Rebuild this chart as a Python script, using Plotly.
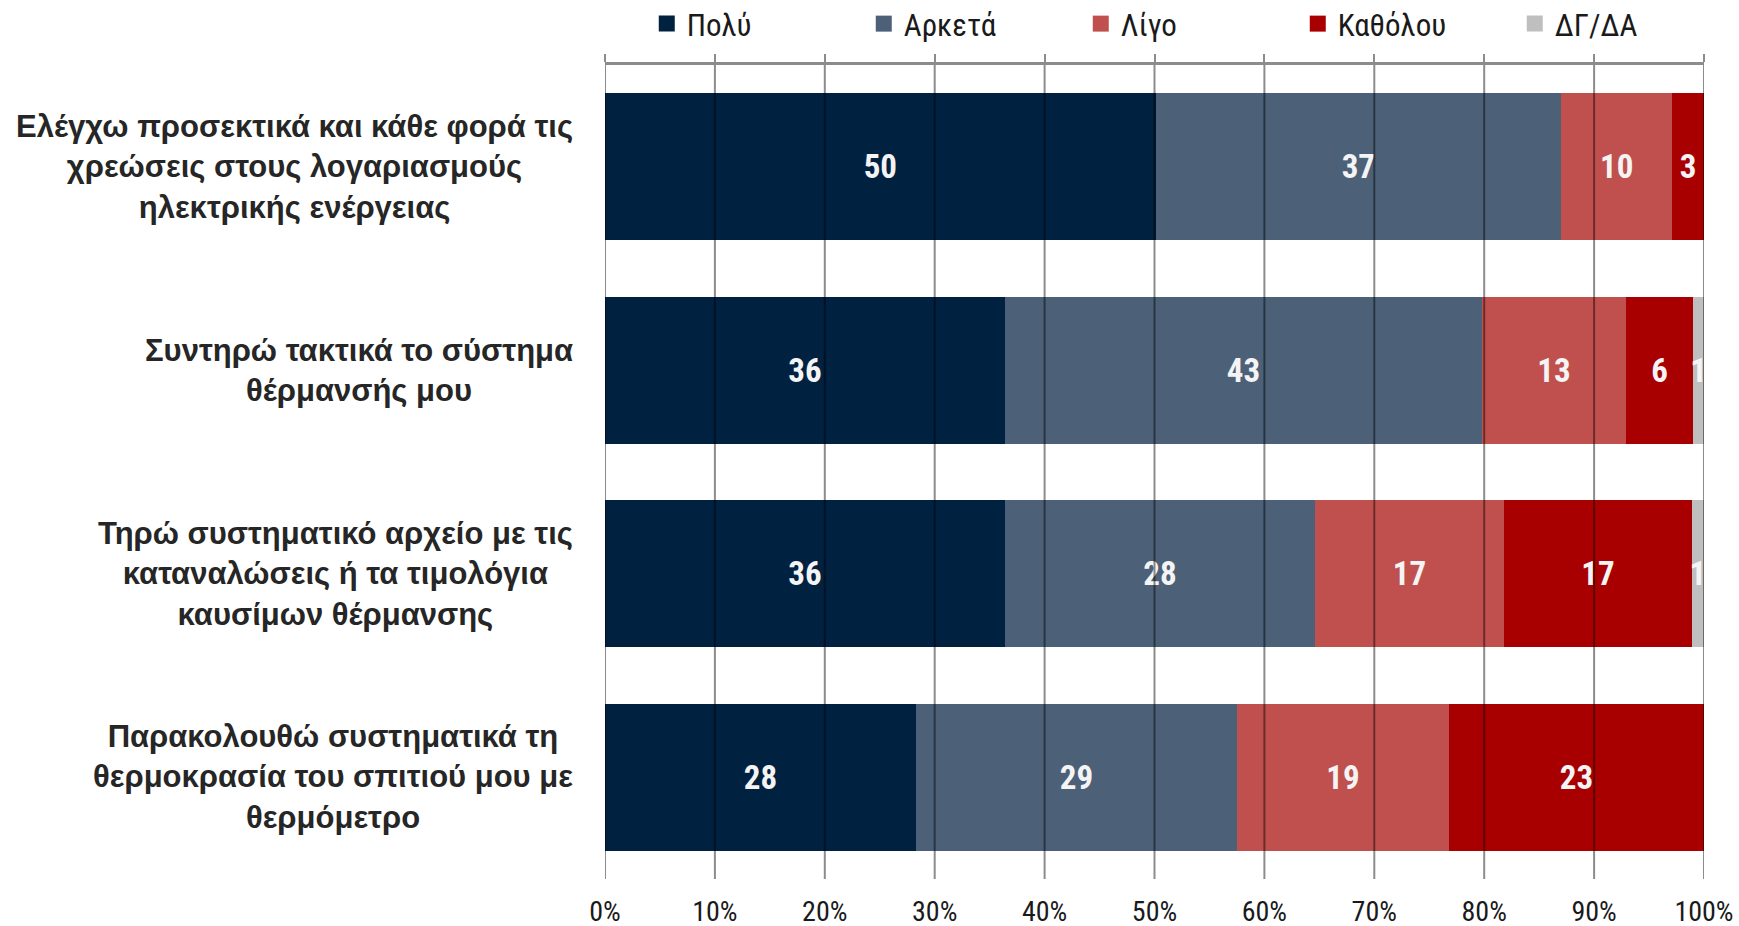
import plotly.graph_objects as go

NARROW = "Liberation Sans Narrow, Arial Narrow, Roboto Condensed, sans-serif"
BOLD = "Liberation Sans, Arial, sans-serif"

categories = [
    "Ελέγχω προσεκτικά και κάθε φορά τις<br>χρεώσεις στους λογαριασμούς<br>ηλεκτρικής ενέργειας",
    "Συντηρώ τακτικά το σύστημα<br>θέρμανσής μου",
    "Τηρώ συστηματικό αρχείο με τις<br>καταναλώσεις ή τα τιμολόγια<br>καυσίμων θέρμανσης",
    "Παρακολουθώ συστηματικά τη<br>θερμοκρασία του σπιτιού μου με<br>θερμόμετρο",
]

series_names = ["Πολύ", "Αρκετά", "Λίγο", "Καθόλου", "ΔΓ/ΔΑ"]

# percentages per series, one value per category (top to bottom)
poly = [50.1, 36.4, 36.4, 28.3]
arketa = [36.9, 43.4, 28.2, 29.2]
ligo = [10.1, 13.1, 17.2, 19.3]
katholou = [2.9, 6.1, 17.1, 23.2]
dgda = [0.0, 1.0, 1.1, 0.0]

tick_vals = [0, 0.1, 0.2, 0.3, 0.4, 0.5, 0.6, 0.7, 0.8, 0.9, 1.0]
tick_text = ["0%", "10%", "20%", "30%", "40%", "50%", "60%", "70%", "80%", "90%", "100%"]

colours = ["#012140", "#4C6078", "#C0504D", "#A80000", "#BFBFBF"]

fig = go.Figure()
y_pos = list(range(len(categories)))

for name, vals, col in zip(series_names, [poly, arketa, ligo, katholou, dgda], colours):
    fig.add_trace(go.Bar(
        y=y_pos,
        x=[v / 100 for v in vals],
        orientation="h",
        name=name,
        marker=dict(color=col, line=dict(width=0)),
        text=[f"{v:.0f}" if v > 0 else "" for v in vals],
        textposition="inside",
        insidetextanchor="middle",
        textfont=dict(family=NARROW, size=33, color="#F4F4F4", weight="bold"),
        showlegend=False,
        hoverinfo="skip",
    ))
    # legend-only entry so the square can be larger
    fig.add_trace(go.Scatter(
        x=[None], y=[None], mode="markers", name=name,
        marker=dict(symbol="square", size=18, color=col),
        showlegend=True,
    ))

# invisible trace to carry the top axis
fig.add_trace(go.Scatter(x=[0, 1], y=[0, 0], xaxis="x2", mode="markers",
                         marker=dict(opacity=0), showlegend=False, hoverinfo="skip"))

# gridlines drawn on top of the bars
for v in tick_vals:
    fig.add_shape(type="line", xref="x", yref="paper", x0=v, x1=v, y0=0, y1=1,
                  line=dict(color="rgba(0,0,0,0.45)", width=2), layer="above")

for i, cat in enumerate(categories):
    fig.add_annotation(x=0, xref="paper", y=i, yref="y", text=cat,
                       xanchor="right", xshift=-30, align="center", showarrow=False,
                       font=dict(family=BOLD, size=31, color="#262626", weight="bold"))

fig.update_layout(
    width=1739, height=926,
    barmode="stack",
    bargap=0.28,
    plot_bgcolor="white",
    paper_bgcolor="white",
    margin=dict(l=605, r=35, t=65, b=47, autoexpand=False),
    uniformtext=dict(minsize=33, mode="show"),
    legend=dict(orientation="h", traceorder="normal",
                x=0.038, xanchor="left", y=1.0504, yanchor="middle",
                entrywidth=172, entrywidthmode="pixels",
                font=dict(family=NARROW, size=31, color="#1a1a1a"),
                bgcolor="rgba(0,0,0,0)"),
    xaxis=dict(range=[0, 1], tickvals=tick_vals, ticktext=tick_text,
               showgrid=False, zeroline=False, showline=False,
               ticks="outside", ticklen=7, tickcolor="rgba(0,0,0,0)",
               tickfont=dict(family=NARROW, size=28, color="#1a1a1a"),
               ticklabeloverflow="allow", fixedrange=True),
    xaxis2=dict(range=[0, 1], overlaying="x", side="top", tickvals=tick_vals,
                showticklabels=False, showgrid=False, zeroline=False,
                showline=True, linecolor="#8C8C8C", linewidth=3,
                ticks="outside", ticklen=8, tickwidth=2, tickcolor="#8C8C8C"),
    yaxis=dict(range=[3.5, -0.5], showticklabels=False, showgrid=False,
               zeroline=False, showline=False, ticks=""),
)

# drop the default 8px page margin so the figure fills the window exactly
fig.write_html("out.html", config={"displayModeBar": False},
               post_script="document.body.style.margin='0px';")
